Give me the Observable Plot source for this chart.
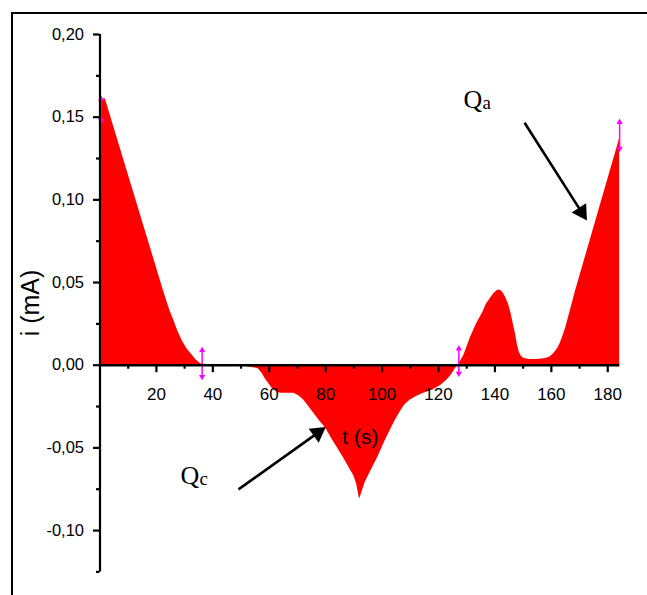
<!DOCTYPE html>
<html>
<head>
<meta charset="utf-8">
<script src="https://cdn.jsdelivr.net/npm/d3@7"></script>
<script src="https://cdn.jsdelivr.net/npm/@observablehq/plot@0.6"></script>
<style>
  html, body { margin: 0; padding: 0; background: #fff; }
  #wrap { position: relative; width: 647px; height: 595px; overflow: hidden; }
  #wrap svg { position: absolute; left: 0; top: 0; }
  #frame { position: absolute; left: 11px; top: 12px; right: -10px; bottom: -10px;
           border-left: 2px solid #000; border-top: 2px solid #000; }
</style>
</head>
<body>
<div id="wrap"><div id="frame"></div></div>
<script>
// Chronoamperometric current i (mA) versus time t (s)
const time = [0, 1.9, 22.5, 24, 25, 26.2, 27.5, 29.1, 30.8, 32.7,
  34.2, 35.6, 37, 51, 52, 56, 57.5, 58.5, 59.8, 61,
  62.5, 64, 68.7, 70.5, 72.2, 74, 75.8, 78, 80, 82,
  86, 90, 91, 92, 93, 94, 96, 98.4, 101, 103,
  104.8, 106.5, 108, 110, 112, 114.7, 118, 121, 123, 124.5,
  126, 127, 129, 131.4, 133.5, 135.6, 137, 138.5, 139.5, 140.5,
  141.3, 142.2, 143, 143.8, 144.8, 145.6, 146.5, 147.4, 148, 148.6,
  149.3, 150.2, 152, 155, 158, 159.5, 160.8, 162.2, 163.2, 164,
  165, 165.8, 167.2, 168.6, 184.2];
const current = [0.161, 0.161, 0.045, 0.037, 0.032, 0.027, 0.021, 0.015, 0.010, 0.006,
  0.003, 0.001, 0, 0, -0.001, -0.002, -0.005, -0.008, -0.011, -0.014,
  -0.016, -0.017, -0.017, -0.0185, -0.021, -0.025, -0.029, -0.034, -0.038, -0.044,
  -0.055, -0.067, -0.072, -0.081, -0.076, -0.071, -0.064, -0.056, -0.046, -0.039,
  -0.033, -0.028, -0.024, -0.021, -0.019, -0.017, -0.015, -0.012, -0.009, -0.006,
  -0.002, 0, 0.006, 0.017, 0.025, 0.0315, 0.037, 0.0406, 0.043, 0.0448,
  0.0455, 0.045, 0.0435, 0.041, 0.037, 0.032, 0.025, 0.018, 0.012, 0.008,
  0.0055, 0.0042, 0.0035, 0.0035, 0.004, 0.005, 0.007, 0.010, 0.0135, 0.017,
  0.022, 0.027, 0.036, 0.045, 0.137];

// integration limits (data cursors)
const cursorTime = [0.4, 36.2, 127.2, 184.2];
const cursorLow = [0.148, -0.007, -0.005, 0.131];
const cursorHigh = [0.161, 0.009, 0.010, 0.147];

// axis ticks
const xMajor = [20, 40, 60, 80, 100, 120, 140, 160, 180];
const xMinor = [10, 30, 50, 70, 90, 110, 130, 150, 170];
const yMajor = [0.20, 0.15, 0.10, 0.05, 0.00, -0.05, -0.10];
const yMinor = [0.175, 0.125, 0.075, 0.025, -0.025, -0.075, -0.125];

// charge annotations: label, arrow start and arrow tip (t, i)
const annLabel = ["a", "c"];
const annTextT = [128.9, 28.5];
const annTextI = [0.1557, -0.0717];
const arrowT1 = [150.5, 49.1];
const arrowI1 = [0.1466, -0.0751];
const arrowT2 = [172.5, 79.9];
const arrowI2 = [0.0878, -0.0376];

const W = 647, H = 595;
const mL = 99.5, mR = 27.6, mT = 34, mB = 23.6;
const xDomain = [0, 184.3], yDomain = [-0.125, 0.20];

const series = time.map((t, k) => ({t, i: current[k]}));
const cursors = cursorTime.map((t, k) => ({t, lo: cursorLow[k], hi: cursorHigh[k]}));

// arrowheads: filled triangles placed just behind each tip
const xs = d3.scaleLinear(xDomain, [mL, W - mR]);
const ys = d3.scaleLinear(yDomain, [H - mB, mT]);
const headBack = 9.4;
const arrows = annLabel.map((lab, k) => {
  const x1 = xs(arrowT1[k]), y1 = ys(arrowI1[k]);
  const x2 = xs(arrowT2[k]), y2 = ys(arrowI2[k]);
  const a = Math.atan2(y2 - y1, x2 - x1);
  const cx = x2 - headBack * Math.cos(a), cy = y2 - headBack * Math.sin(a);
  return {
    t1: arrowT1[k], i1: arrowI1[k],
    tc: xs.invert(cx), ic: ys.invert(cy),
    rot: a * 180 / Math.PI + 90
  };
});
const notes = annLabel.map((sub, k) => ({sub, t: annTextT[k], i: annTextI[k]}));

const sans = "'Liberation Sans', Arial, sans-serif";
const serif = "'Liberation Serif', 'Times New Roman', serif";
const fmt = d => (d < 0 ? "-" : "") + Math.abs(d).toFixed(2).replace(".", ",");

const chart = Plot.plot({
  width: W, height: H,
  marginLeft: mL, marginRight: mR, marginTop: mT, marginBottom: mB,
  x: {domain: xDomain, axis: null},
  y: {domain: yDomain, axis: null},
  style: {background: "transparent", overflow: "visible"},
  marks: [
    Plot.areaY(series, {x: "t", y: "i", fill: "#ff0000", curve: "linear"}),
    // cursors
    Plot.link(cursors, {x1: "t", x2: "t", y1: "lo", y2: "hi", stroke: "#ff00ff", strokeWidth: 1.5}),
    Plot.dot(cursors, {x: "t", y: "hi", symbol: "triangle", r: 2.3, fill: "#ff00ff", stroke: null}),
    Plot.dot(cursors, {x: "t", y: "lo", symbol: "triangle", r: 2.3, fill: "#ff00ff", stroke: null, rotate: 180}),
    // axis lines
    Plot.ruleY([0], {x1: 0, x2: xDomain[1], stroke: "#000", strokeWidth: 2.5}),
    Plot.ruleX([0], {y1: yDomain[0], y2: yDomain[1], stroke: "#000", strokeWidth: 2.2}),
    // x ticks (pointing down)
    Plot.ruleX(xMajor, {x: d => d, y1: 0, y2: 0, insetBottom: -7.5, stroke: "#000", strokeWidth: 2.2}),
    Plot.ruleX(xMinor, {x: d => d, y1: 0, y2: 0, insetBottom: -4, stroke: "#000", strokeWidth: 2.2}),
    // y ticks (pointing left)
    Plot.ruleY(yMajor, {y: d => d, x1: 0, x2: 0, insetLeft: -6.5, stroke: "#000", strokeWidth: 2.2}),
    Plot.ruleY(yMinor, {y: d => d, x1: 0, x2: 0, insetLeft: -3.5, stroke: "#000", strokeWidth: 2.2}),
    // tick labels
    Plot.text(xMajor, {x: d => d, y: 0, dy: 29, text: d => String(d), fontSize: 17,
      fontFamily: sans, fill: "#000", lineAnchor: "middle"}),
    Plot.text(yMajor, {x: 0, y: d => d, dx: -16, text: fmt, fontSize: 16.5,
      fontFamily: sans, fill: "#000", textAnchor: "end", lineAnchor: "middle"}),
    // axis titles
    Plot.text(["t (s)"], {x: 92.3, y: -0.0435, fontSize: 21, fontFamily: sans, fill: "#000", lineAnchor: "middle"}),
    Plot.text(["i (mA)"], {x: -24.6, y: 0.0376, rotate: -90, fontSize: 25, fontFamily: sans, fill: "#000", lineAnchor: "middle"}),
    // annotation arrows
    Plot.link(arrows, {x1: "t1", y1: "i1", x2: "tc", y2: "ic", stroke: "#000", strokeWidth: 2.6}),
    Plot.dot(arrows, {x: "tc", y: "ic", symbol: "triangle", r: 6.4, fill: "#000", stroke: null, rotate: "rot"}),
    // annotation labels Q with subscript
    Plot.text(notes, {x: "t", y: "i", text: () => "Q", fontSize: 26, fontFamily: serif,
      fill: "#000", textAnchor: "start", lineAnchor: "bottom"}),
    Plot.text(notes, {x: "t", y: "i", text: "sub", dx: 19, dy: 1, fontSize: 19, fontFamily: serif,
      fill: "#000", textAnchor: "start", lineAnchor: "bottom"})
  ]
});

document.getElementById("wrap").appendChild(chart);
</script>
</body>
</html>
